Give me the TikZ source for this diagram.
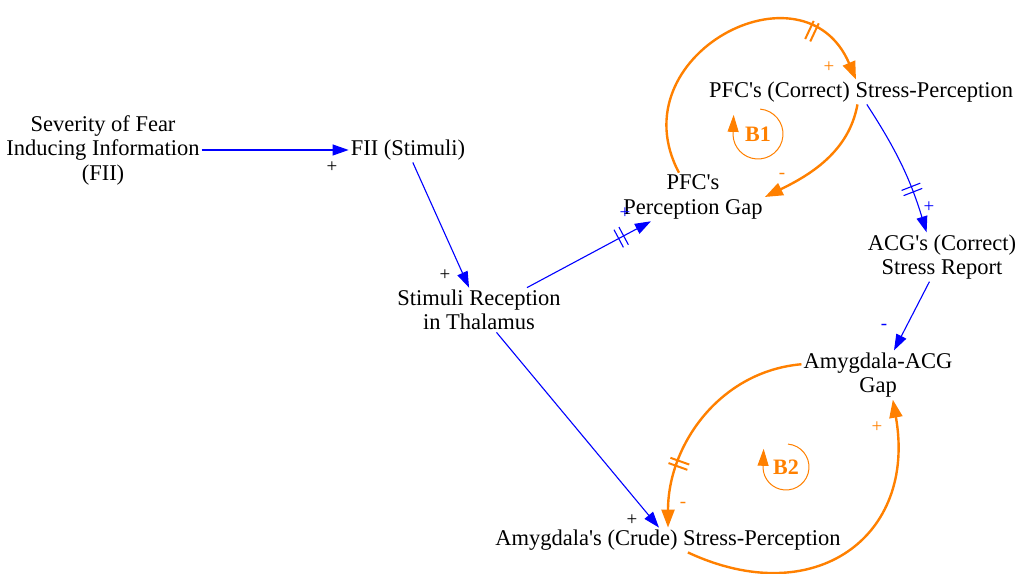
\documentclass[tikz,border=0pt]{standalone}
\usepackage{fontspec}
\setmainfont{Liberation Serif}[Ligatures=TeXOff]
\usetikzlibrary{arrows.meta,decorations.markings,calc}
\definecolor{lorange}{RGB}{255,128,0}
\definecolor{lblue}{RGB}{0,0,255}
\begin{document}
\begin{tikzpicture}[x=1pt,y=1pt,
  var/.style={align=center,font=\fontsize{22.5}{24.5}\selectfont,inner sep=2pt},
  blink/.style={draw=lblue,line width=1.1pt,-{Triangle[length=16pt,width=11pt]}},
  olink/.style={draw=lorange,line width=2.4pt,-{Triangle[length=18pt,width=13pt]}},
  delay/.style n args={3}{postaction={decorate},decoration={markings,
     mark=at position #1 with {\draw[-,draw=#2,line width=#3] (-2.8,-10)--(-2.8,10) (2.8,-10)--(2.8,10);}}},
  pol/.style={font=\fontsize{19}{19}\selectfont,inner sep=0pt},
  loopmark/.style={draw=lorange,line width=1pt,-{Triangle[length=17pt,width=11pt]}},
  looptxt/.style={text=lorange,font=\bfseries\fontsize{22}{22}\selectfont,inner sep=0pt}
]
\useasboundingbox (0,0) rectangle (1019,573);
% variables
\node[var] (sev)  at (103,423) {Severity of Fear\\Inducing Information\\(FII)};
\node[var] (fii)  at (408,423) {FII (Stimuli)};
\node[var] (thal) at (479,263) {Stimuli Reception\\in Thalamus};
\node[var] (pgap) at (693,376) {PFC's\\Perception Gap};
\node[var] (pfcc) at (861,481) {PFC's (Correct) Stress-Perception};
\node[var] (acg)  at (942,316) {ACG's (Correct)\\Stress Report};
\node[var] (agap) at (878,198) {Amygdala-ACG\\Gap};
\node[var] (amyg) at (668,33)  {Amygdala's (Crude) Stress-Perception};
% blue links
\draw[blink] (sev) -- (fii);
\draw[blink] (fii.-69) -- (thal.114);
\draw[blink,delay={0.76}{lblue}{1.1pt}] (thal.25) -- (pgap.210);
\draw[blink] (thal.-52) -- (amyg.126);
\draw[blink,delay={0.68}{lblue}{1.1pt}] (pfcc.-65) to[bend left=8] (acg.122);
\draw[blink] (acg.243) -- (agap.57);
% orange loop links
\draw[olink,delay={0.79}{lorange}{2pt}] (pgap.120) to[out=118,in=113,looseness=1.7] (pfcc.112);
\draw[olink] (pfcc.-106) to[out=-100,in=26,looseness=0.95] (pgap.east);
\draw[olink,delay={0.72}{lorange}{2pt}] (agap.172) to[out=185,in=90,looseness=1] (amyg.north);
\draw[olink] (amyg.-32) to[out=-25,in=-80,looseness=1.4] (agap.-59);
% polarities
\node[pol] (p1) at (332,406) {+};
\node[pol] (p2) at (445,298) {+};
\node[pol,text=lblue] (p3) at (625,360) {+};
\node[pol] (p4) at (632,53) {+};
\node[pol,text=lorange] (p5) at (829,506) {+};
\node[pol,text=lorange] (p6) at (782,397) {-};
\node[pol,text=lblue] (p7) at (929,366) {+};
\node[pol,text=lblue] (p8) at (884,246) {-};
\node[pol,text=lorange] (p9) at (683,68) {-};
\node[pol,text=lorange] (p10) at (877,146) {+};
% loop markers
\coordinate (b1c) at (758,439);
\coordinate (b2c) at (786,106);
\node[looptxt] (b1) at (b1c) {B1};
\node[looptxt] (b2) at (b2c) {B2};
\draw[loopmark] ($(b1c)+(85:25)$) arc[start angle=85,end angle=-178,radius=25] -- ++(0.6,20);
\draw[loopmark] ($(b2c)+(85:23)$) arc[start angle=85,end angle=-178,radius=23] -- ++(0.6,19);
\end{tikzpicture}
\end{document}
